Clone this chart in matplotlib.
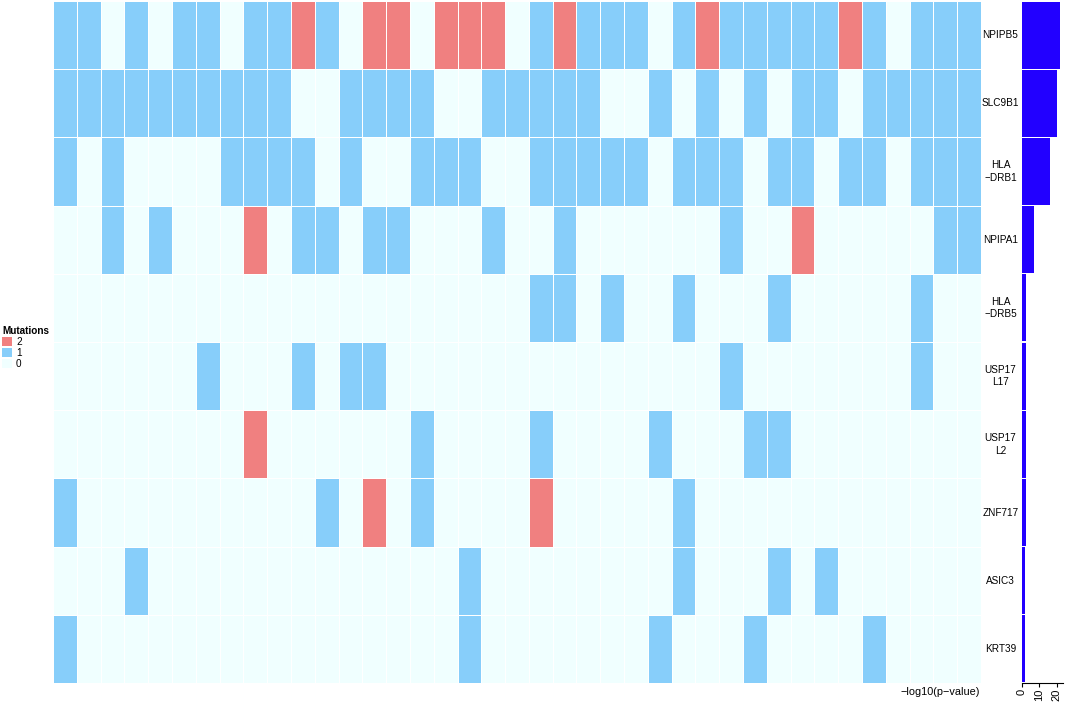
import matplotlib
matplotlib.use("Agg")
import matplotlib.pyplot as plt
import numpy as np
from matplotlib.colors import ListedColormap, BoundaryNorm
from matplotlib.patches import Patch

plt.rcParams['font.family'] = ['Liberation Sans', 'DejaVu Sans']

genes = ["NPIPB5", "SLC9B1", "HLA\n\u2212DRB1", "NPIPA1", "HLA\n\u2212DRB5",
         "USP17\nL17", "USP17\nL2", "ZNF717", "ASIC3", "KRT39"]

# mutation counts per sample (39 samples), one list per gene
npipb5 = [1,1,0,1,0,1,1,0,1,1,2,1,0,2,2,0,2,2,2,0,1,2,1,1,1,0,1,2,1,1,1,1,1,2,1,0,1,1,1]
slc9b1 = [1,1,1,1,1,1,1,1,1,1,0,0,1,1,1,1,0,0,1,1,1,1,1,0,0,1,0,1,0,1,0,1,1,0,1,1,1,1,1]
hla_drb1 = [1,0,1,0,0,0,0,1,1,1,1,0,1,0,0,1,1,1,0,0,1,1,1,1,1,0,1,1,1,0,1,1,0,1,1,0,1,1,1]
npipa1 = [0,0,1,0,1,0,0,0,2,0,1,1,0,1,1,0,0,0,1,0,0,1,0,0,0,0,0,0,1,0,0,2,0,0,0,0,0,1,1]
hla_drb5 = [0,0,0,0,0,0,0,0,0,0,0,0,0,0,0,0,0,0,0,0,1,1,0,1,0,0,1,0,0,0,1,0,0,0,0,0,1,0,0]
usp17l17 = [0,0,0,0,0,0,1,0,0,0,1,0,1,1,0,0,0,0,0,0,0,0,0,0,0,0,0,0,1,0,0,0,0,0,0,0,1,0,0]
usp17l2 = [0,0,0,0,0,0,0,0,2,0,0,0,0,0,0,1,0,0,0,0,1,0,0,0,0,1,0,0,0,1,1,0,0,0,0,0,0,0,0]
znf717 = [1,0,0,0,0,0,0,0,0,0,0,1,0,2,0,1,0,0,0,0,2,0,0,0,0,0,1,0,0,0,0,0,0,0,0,0,0,0,0]
asic3 = [0,0,0,1,0,0,0,0,0,0,0,0,0,0,0,0,0,1,0,0,0,0,0,0,0,0,1,0,0,0,1,0,1,0,0,0,0,0,0]
krt39 = [1,0,0,0,0,0,0,0,0,0,0,0,0,0,0,0,0,1,0,0,0,0,0,0,0,1,0,0,0,1,0,0,0,0,1,0,0,0,0]

neglog_p = [21.8, 19.9, 16.3, 6.9, 2.5, 2.3, 2.3, 2.5, 1.8, 1.8]

mat = np.array([npipb5, slc9b1, hla_drb1, npipa1, hla_drb5,
                usp17l17, usp17l2, znf717, asic3, krt39])

W, H = 1065, 708
fig = plt.figure(figsize=(W / 100, H / 100), dpi=100)

cmap = ListedColormap(["#F0FFFF", "#87CEFA", "#F08080"])
norm = BoundaryNorm([-0.5, 0.5, 1.5, 2.5], cmap.N)

ax = fig.add_axes([53 / W, 1 - 683 / H, 928 / W, 682 / H])
ax.pcolormesh(mat, cmap=cmap, norm=norm, edgecolors="white", linewidth=0.5)
ax.set_xlim(0, mat.shape[1])
ax.set_ylim(mat.shape[0], 0)
ax.axis("off")

# gene names between the heatmap and the bars
for i, g in enumerate(genes):
    ax.text(mat.shape[1] + 0.82, i + 0.5, g, ha="center", va="center",
            fontsize=7.2, linespacing=1.3)

bx = fig.add_axes([1022 / W, 1 - 683 / H, 41 / W, 682 / H])
bx.barh(np.arange(len(genes)) + 0.5, neglog_p, height=0.98, color="#2200ff")
bx.set_ylim(len(genes), 0)
bx.set_xlim(0, 23.5)
for s in ["top", "right", "left"]:
    bx.spines[s].set_visible(False)
bx.spines["bottom"].set_linewidth(0.8)
bx.set_yticks([])
bx.set_xticks([0, 10, 20])
bx.tick_params(axis="x", labelsize=8, labelrotation=90, length=3, pad=1)

fig.text(940 / W, 1 - 692 / H, "\u2212log10(p\u2212value)", ha="center",
         va="center", fontsize=7.8)

handles = [Patch(facecolor="#F08080", label="2"),
           Patch(facecolor="#87CEFA", label="1"),
           Patch(facecolor="#F0FFFF", label="0")]
leg = fig.legend(handles=handles, title="Mutations", loc="upper left",
                 bbox_to_anchor=(0.0, 1 - 324 / H), frameon=False,
                 fontsize=7.2, title_fontproperties={"weight": "bold", "size": 7.2},
                 handlelength=1.0, handleheight=1.0, handletextpad=0.4,
                 labelspacing=0.1, borderpad=0.2, borderaxespad=0)
leg._legend_box.align = "left"

fig.savefig("out.png", dpi=100)
